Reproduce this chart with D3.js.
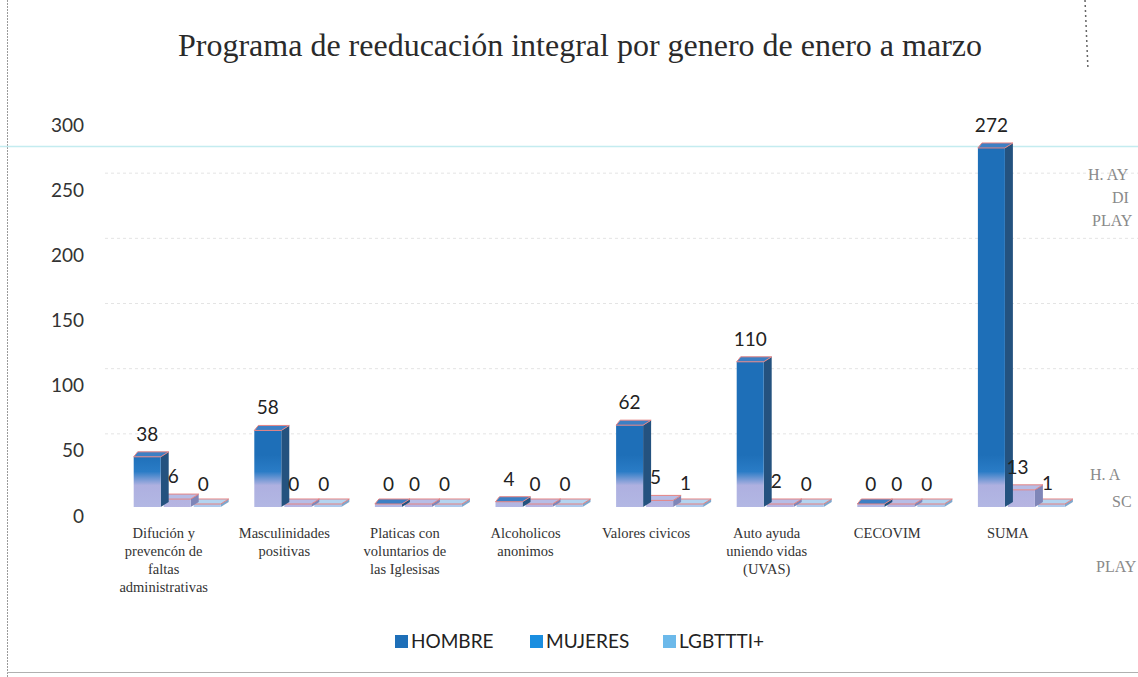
<!DOCTYPE html>
<html>
<head>
<meta charset="utf-8">
<script src="https://cdn.jsdelivr.net/npm/d3@7"></script>
<style>
  body { margin: 0; background: #fff; }
  svg { display: block; }
</style>
</head>
<body>
<svg id="chart"></svg>
<script>
var width = 1138;
var height = 677;

// data
var categories = ["Difución y prevencón de faltas administrativas", "Masculinidades positivas",
  "Platicas con voluntarios de las Iglesisas", "Alcoholicos anonimos", "Valores civicos",
  "Auto ayuda uniendo vidas (UVAS)", "CECOVIM", "SUMA"];
var categoryLines = [
  ["Difución y", "prevencón de", "faltas", "administrativas"],
  ["Masculinidades", "positivas"],
  ["Platicas con", "voluntarios de", "las Iglesisas"],
  ["Alcoholicos", "anonimos"],
  ["Valores civicos"],
  ["Auto ayuda", "uniendo vidas", "(UVAS)"],
  ["CECOVIM"],
  ["SUMA"]
];
var series = ["HOMBRE", "MUJERES", "LGBTTTI+"];
var hombre = [38, 58, 0, 4, 62, 110, 0, 272];
var mujeres = [6, 0, 0, 0, 5, 2, 0, 13];
var lgbt = [0, 0, 0, 0, 1, 0, 0, 1];
var yTicks = [0, 50, 100, 150, 200, 250, 300];

var values = [hombre, mujeres, lgbt];
var legendColors = ["#1e6fb8", "#1a8ee0", "#6cb9ea"];
var sideColors = ["#24527f", "#7f86b8", "#7fa6cc"];
var topColors = ["#3d7fc4", "#b7bde6", "#b4d4f0"];

var svg = d3.select("#chart").attr("width", width).attr("height", height);

// scanned page frame
svg.append("line").attr("x1", 7.5).attr("x2", 7.5).attr("y1", 0).attr("y2", height)
  .attr("stroke", "#9a9a9a").attr("stroke-dasharray", "2,1");
svg.append("line").attr("x1", 7).attr("x2", width).attr("y1", 672.5).attr("y2", 672.5)
  .attr("stroke", "#b0b0b0");

var yAxisScale = d3.scaleLinear().domain([0, 300]).range([516, 125]);
var yBar = d3.scaleLinear().domain([0, 300]).range([507, 111]);
var x0 = d3.scaleBand().domain(categories).range([113.7, 1078.5]).padding(0);
var x1 = d3.scaleBand().domain(series).range([0, 87]).paddingInner(0.1);
var clusterOffset = 20;
var depth = 8;

// back wall gridlines
svg.append("g").selectAll("line").data(yTicks.slice(1, 6)).enter().append("line")
  .attr("x1", 105).attr("x2", width)
  .attr("y1", function(d) { return yAxisScale(d) - 17; })
  .attr("y2", function(d) { return yAxisScale(d) - 17; })
  .attr("stroke", "#e4e4e4").attr("stroke-dasharray", "3,3");

// scanner streak
svg.append("line").attr("x1", 0).attr("x2", width).attr("y1", 146.5).attr("y2", 146.5)
  .attr("stroke", "#c4ecf0").attr("stroke-width", 1.5);

// y axis labels
svg.append("g").selectAll("text").data(yTicks).enter().append("text")
  .attr("x", 84).attr("y", function(d) { return yAxisScale(d); })
  .attr("dy", "0.35em").attr("text-anchor", "end")
  .style("font-family", "Lato, 'Open Sans', sans-serif").style("font-size", "19px")
  .style("fill", "#333").text(function(d) { return d; });

// title
svg.append("text").attr("x", 580).attr("y", 56).attr("text-anchor", "middle")
  .attr("textLength", 804).attr("lengthAdjust", "spacingAndGlyphs")
  .style("font-family", "'Liberation Serif', serif").style("font-size", "31px")
  .style("fill", "#2a2a2a").text("Programa de reeducación integral por genero de enero a marzo");

// gradients, fixed in page space so the lower part of every bar fades to lavender
var defs = svg.append("defs");
var bottoms = ["#b3b8e4", "#b8b6e2", "#b0cdee"];
series.forEach(function(s, i) {
  var g = defs.append("linearGradient").attr("id", "front" + i)
    .attr("gradientUnits", "userSpaceOnUse").attr("x1", 0).attr("x2", 0).attr("y1", 455).attr("y2", 510);
  g.append("stop").attr("offset", 0).attr("stop-color", legendColors[i]);
  g.append("stop").attr("offset", 0.3).attr("stop-color", i == 0 ? "#2a7cc6" : "#8fb0e6");
  g.append("stop").attr("offset", 0.55).attr("stop-color", "#aeb0e0");
  g.append("stop").attr("offset", 1).attr("stop-color", bottoms[i]);
});

var bars = [];
categories.forEach(function(c, ci) {
  series.forEach(function(s, si) {
    bars.push({ cat: c, ci: ci, s: s, si: si, v: values[si][ci] });
  });
});

// draw back series first so front ones overlap properly
var barG = svg.append("g").selectAll("g").data(bars.slice().sort(function(a, b) { return b.si - a.si; }))
  .enter().append("g");

function bx(d) { return x0(d.cat) + clusterOffset + x1(d.s); }
function btop(d) { return Math.min(yBar(d.v), yBar(0) - 3); }

barG.append("path").attr("d", function(d) {
  var x = bx(d) + x1.bandwidth(), t = btop(d), b = yBar(0);
  return "M" + x + "," + t + "L" + (x + depth) + "," + (t - 5) + "L" + (x + depth) + "," + (b - 5) + "L" + x + "," + b + "Z";
}).attr("fill", function(d) { return sideColors[d.si]; });

barG.append("rect")
  .attr("x", bx)
  .attr("y", btop)
  .attr("width", x1.bandwidth())
  .attr("height", function(d) { return yBar(0) - btop(d); })
  .attr("fill", function(d) { return "url(#front" + d.si + ")"; });

barG.append("path").attr("d", function(d) {
  var x = bx(d), w = x1.bandwidth(), t = btop(d);
  return "M" + x + "," + t + "L" + (x + 4) + "," + (t - 5) + "L" + (x + w + depth) + "," + (t - 5) + "L" + (x + w) + "," + t + "Z";
}).attr("fill", function(d) { return topColors[d.si]; })
  .attr("stroke", "#e58383").attr("stroke-width", 1);

// value labels
svg.append("g").selectAll("text").data(bars).enter().append("text")
  .attr("x", function(d) { return bx(d) + x1.bandwidth() / 2 - (d.si ? 4 : 0); })
  .attr("y", function(d) { return yBar(d.v) - 16; })
  .attr("text-anchor", "middle")
  .style("font-family", "Lato, 'Open Sans', sans-serif").style("font-size", "19px")
  .style("fill", "#222").text(function(d) { return d.v; });

// category labels
var catG = svg.append("g").selectAll("text").data(categories).enter().append("text")
  .attr("x", function(d) { return x0(d) + 50; })
  .attr("y", 538)
  .attr("text-anchor", "middle")
  .style("font-family", "'Liberation Serif', serif").style("font-size", "14.5px")
  .style("fill", "#333");
catG.each(function(d, i) {
  var t = d3.select(this);
  categoryLines[i].forEach(function(line, li) {
    t.append("tspan").attr("x", x0(d) + 50).attr("dy", li ? 18 : 0).text(line);
  });
});

// legend
var legendX = [395, 530, 663];
var leg = svg.append("g").selectAll("g").data(series).enter().append("g")
  .attr("transform", function(d, i) { return "translate(" + legendX[i] + ",641)"; });
leg.append("rect").attr("x", 0).attr("y", -6).attr("width", 13).attr("height", 13)
  .attr("fill", function(d, i) { return legendColors[i]; });
leg.append("text").attr("x", 16).attr("y", 0).attr("dy", "0.35em")
  .style("font-family", "Lato, 'Open Sans', sans-serif").style("font-size", "19px")
  .style("fill", "#222").text(function(d) { return d; });

// stamp fragments at the right edge of the scan
var stamp = [["H. AY", 1088, 180], ["DI", 1112, 203], ["PLAY", 1092, 226], ["H. A", 1090, 480], ["SC", 1112, 507], ["PLAY", 1096, 572]];
svg.append("g").selectAll("text").data(stamp).enter().append("text")
  .attr("x", function(d) { return d[1]; }).attr("y", function(d) { return d[2]; })
  .style("font-family", "'Liberation Serif', serif").style("font-size", "16px")
  .style("fill", "#8a8a8a").text(function(d) { return d[0]; });
svg.append("line").attr("x1", 1085).attr("x2", 1088).attr("y1", 0).attr("y2", 70)
  .attr("stroke", "#666").attr("stroke-dasharray", "2,3").attr("stroke-width", 1.5);
</script>
</body>
</html>
